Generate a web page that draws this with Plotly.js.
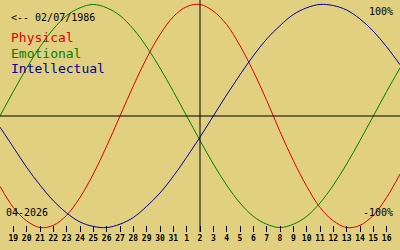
<!DOCTYPE html>
<html>
<head>
<meta charset="utf-8">
<script src="https://cdn.plot.ly/plotly-3.0.1.min.js"></script>
<style>
html,body{margin:0;padding:0;background:#e0d080;}
#chart{width:400px;height:250px;}
</style>
</head>
<body>
<div id="chart"></div>
<script>
// day offsets relative to the current day (0 = 2 April 2026)
const dayOffsets = [-15,-14,-13,-12,-11,-10,-9,-8,-7,-6,-5,-4,-3,-2,-1,0,1,2,3,4,5,6,7,8,9,10,11,12,13,14,15];
const physical = [-0.63,-0.82,-0.94,-1.00,-0.98,-0.89,-0.73,-0.52,-0.27,0.00,0.27,0.52,0.73,0.89,0.98,1.00,0.94,0.82,0.63,0.40,0.14,-0.14,-0.40,-0.63,-0.82,-0.94,-1.00,-0.98,-0.89,-0.73,-0.52];
const emotional = [0.00,0.22,0.43,0.62,0.78,0.90,0.97,1.00,0.97,0.90,0.78,0.62,0.43,0.22,0.00,-0.22,-0.43,-0.62,-0.78,-0.90,-0.97,-1.00,-0.97,-0.90,-0.78,-0.62,-0.43,-0.22,0.00,0.22,0.43];
const intellectual = [-0.10,-0.28,-0.46,-0.62,-0.76,-0.87,-0.95,-0.99,-1.00,-0.97,-0.91,-0.81,-0.69,-0.54,-0.37,-0.19,0.00,0.19,0.37,0.54,0.69,0.81,0.91,0.97,1.00,0.99,0.95,0.87,0.76,0.62,0.46];
const tickOffsets = [-14,-13,-12,-11,-10,-9,-8,-7,-6,-5,-4,-3,-2,-1,0,1,2,3,4,5,6,7,8,9,10,11,12,13,14,15];
const tickLabels = ['19','20','21','22','23','24','25','26','27','28','29','30','31','1','2','3','4','5','6','7','8','9','10','11','12','13','14','15','16'];
const seriesNames = ['Physical','Emotional','Intellectual'];
const birthLabel = '<-- 02/07/1986';
const monthLabel = '04-2026';
const topLabel = '100%';
const bottomLabel = '-100%';

const colors = ['#e00000','#008000','#000090'];
const W = 400, H = 250, MB = 18, PH = H - MB;
const mono = 'DejaVu Sans Mono';
function px(x){return x/W;}
function py(y){return 1 - y/PH;}

const traces = [physical, emotional, intellectual].map((vals,i)=>({
  x: dayOffsets, y: vals, type:'scatter', mode:'lines', name: seriesNames[i],
  line:{color:colors[i], width:1, shape:'spline', smoothing:1},
  hoverinfo:'skip'
}));

const ann = [];
ann.push({text: birthLabel.replace('<','&lt;'), xref:'paper', yref:'paper', x:px(9), y:py(17), xanchor:'left', yanchor:'middle', showarrow:false, font:{family:mono, size:10, color:'#000'}});
seriesNames.forEach((n,i)=>{
  ann.push({text:n, xref:'paper', yref:'paper', x:px(9), y:py(38 + 15*i), xanchor:'left', yanchor:'middle', showarrow:false, font:{family:mono, size:13, color:colors[i]}});
});
ann.push({text: topLabel, xref:'paper', yref:'paper', x:px(395), y:py(12), xanchor:'right', yanchor:'middle', showarrow:false, font:{family:mono, size:10, color:'#000'}});
ann.push({text: bottomLabel, xref:'paper', yref:'paper', x:px(395), y:py(212), xanchor:'right', yanchor:'middle', showarrow:false, font:{family:mono, size:10, color:'#000'}});
ann.push({text: monthLabel, xref:'paper', yref:'paper', x:px(4), y:py(212), xanchor:'left', yanchor:'middle', showarrow:false, font:{family:mono, size:10, color:'#000'}});

const layout = {
  width: W, height: H,
  margin:{l:0, r:0, t:0, b:MB, pad:0},
  paper_bgcolor:'#e0d080', plot_bgcolor:'#e0d080',
  showlegend:false,
  hovermode:false,
  xaxis:{range:[-15,15], tickvals:tickOffsets, ticktext:tickLabels, ticks:'inside', ticklen:6, tickwidth:1, tickcolor:'#000',
         showgrid:false, zeroline:false, showline:false, tickfont:{family:mono, size:8, color:'#000', weight:'bold'}, fixedrange:true},
  yaxis:{range:[-1.04,1.04], visible:false, showgrid:false, zeroline:false, fixedrange:true},
  shapes:[
    {type:'line', xref:'paper', yref:'y', x0:0, x1:1, y0:0, y1:0, line:{color:'#000', width:1}},
    {type:'line', xref:'x', yref:'paper', x0:0, x1:0, y0:0, y1:1, line:{color:'#000', width:1}}
  ],
  annotations: ann
};

Plotly.newPlot('chart', traces, layout, {displayModeBar:false, staticPlot:true});
</script>
</body>
</html>
